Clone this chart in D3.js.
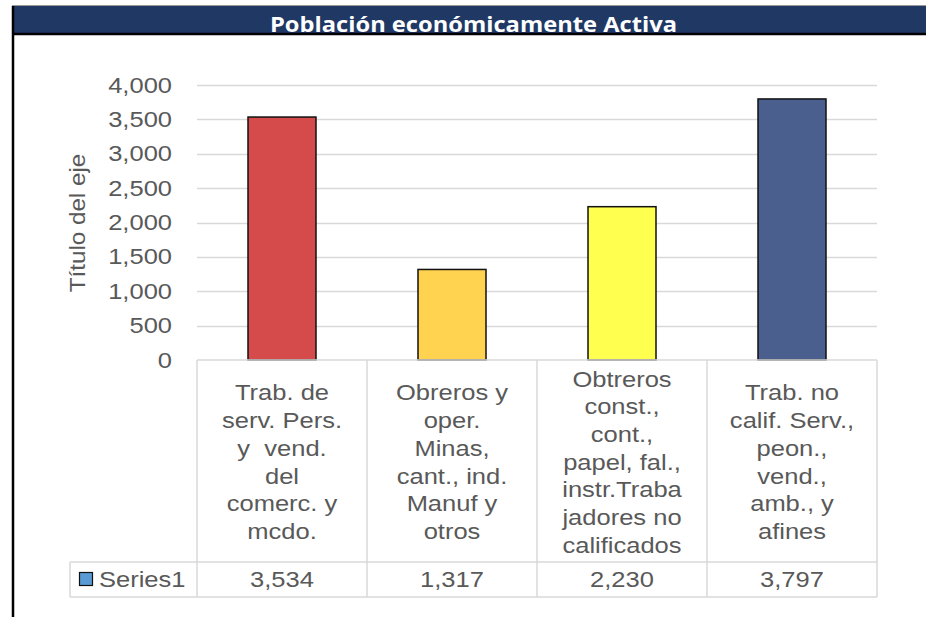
<!DOCTYPE html>
<html>
<head>
<meta charset="utf-8">
<script src="https://cdn.jsdelivr.net/npm/d3@7"></script>
<style>
  html, body { margin: 0; padding: 0; background: #ffffff; }
  svg { display: block; }
  text { font-family: "Liberation Sans", Arial, sans-serif; fill: #595959; }
</style>
</head>
<body>
<svg id="chart" width="926" height="617"></svg>
<script>
// Chart data
const title = "Población económicamente Activa";
const axisTitle = "Título del eje";
const seriesName = "Series1";
const categories = [
  ["Trab. de", "serv. Pers.", "y  vend.", "del", "comerc. y", "mcdo."],
  ["Obreros y", "oper.", "Minas,", "cant., ind.", "Manuf y", "otros"],
  ["Obtreros", "const.,", "cont.,", "papel, fal.,", "instr.Traba", "jadores no", "calificados"],
  ["Trab. no", "calif. Serv.,", "peon.,", "vend.,", "amb., y", "afines"]
];
const values = [3534, 1317, 2230, 3797];
const barColors = ["#d54b4c", "#ffd24f", "#ffff4f", "#4a5f8e"];
const yTicks = [0, 500, 1000, 1500, 2000, 2500, 3000, 3500, 4000];

const svg = d3.select("#chart");
const W = 926;
const SX = 1.16;            // horizontal stretch applied to chart text
const fmt = d3.format(",");
const gridColor = "#d9d9d9";

// Frame: title bar and left rule
svg.append("line").attr("x1", 12).attr("x2", W).attr("y1", 5.5).attr("y2", 5.5)
  .attr("stroke", "#9a9a9a").attr("stroke-width", 1);
svg.append("rect").attr("x", 13).attr("y", 6).attr("width", W - 13).attr("height", 27)
  .attr("fill", "#203864");
svg.append("line").attr("x1", 13).attr("x2", W).attr("y1", 34).attr("y2", 34)
  .attr("stroke", "#000").attr("stroke-width", 2.5);
svg.append("line").attr("x1", 13).attr("x2", 13).attr("y1", 6).attr("y2", 617)
  .attr("stroke", "#000").attr("stroke-width", 2.5);
svg.append("text").text(title)
  .attr("x", 473.5).attr("y", 31.5)
  .attr("text-anchor", "middle")
  .attr("textLength", 407).attr("lengthAdjust", "spacingAndGlyphs")
  .style("font-family", "'Liberation Sans Narrow', 'Open Sans', sans-serif")
  .style("font-weight", "700").style("font-size", "21px")
  .style("fill", "#ffffff");

// Scales
const left = 197, right = 877;
const y = d3.scaleLinear().domain([0, 4000]).range([360, 85]);
const col = d3.scaleBand().domain(d3.range(categories.length)).range([left, right]).padding(0);
const x = d3.scaleBand().domain(d3.range(categories.length)).range([left, right])
  .paddingInner(0.6).paddingOuter(0.3);

// Gridlines
svg.append("g").selectAll("line").data(yTicks.filter(d => d > 0)).join("line")
  .attr("x1", left).attr("x2", right)
  .attr("y1", d => Math.round(y(d)) + 0.5).attr("y2", d => Math.round(y(d)) + 0.5)
  .attr("stroke", gridColor).attr("stroke-width", 1.5);

// Y axis
const yAxis = svg.append("g").attr("transform", `translate(${left},0)`)
  .call(d3.axisLeft(y).tickValues(yTicks).tickSize(0).tickFormat(fmt));
yAxis.select(".domain").remove();
yAxis.selectAll("text")
  .attr("x", -25 / SX)
  .attr("transform", `scale(${SX},1)`)
  .style("font-size", "22px")
  .style("font-family", "'Liberation Sans', Arial, sans-serif")
  .attr("fill", "#595959");

svg.append("text").text(axisTitle)
  .attr("transform", "translate(85,223) rotate(-90) scale(1.1,1)")
  .attr("text-anchor", "middle")
  .style("font-size", "22px");

// Bars
svg.append("g").selectAll("rect").data(values).join("rect")
  .attr("x", (d, i) => x(i))
  .attr("width", x.bandwidth())
  .attr("y", d => y(d))
  .attr("height", d => y(0) - y(d))
  .attr("fill", (d, i) => barColors[i])
  .attr("stroke", "#111").attr("stroke-width", 1.5);

// Data table below the plot
const rowTop = 360, rowMid = 562, rowBot = 597, legendLeft = 70;
const tbl = svg.append("g").attr("stroke", gridColor).attr("stroke-width", 1.5);
tbl.append("line").attr("x1", left).attr("x2", right).attr("y1", rowTop).attr("y2", rowTop);
tbl.append("line").attr("x1", legendLeft).attr("x2", right).attr("y1", rowMid).attr("y2", rowMid);
tbl.append("line").attr("x1", legendLeft).attr("x2", right).attr("y1", rowBot).attr("y2", rowBot);
tbl.append("line").attr("x1", legendLeft).attr("x2", legendLeft).attr("y1", rowMid).attr("y2", rowBot);
tbl.selectAll("line.v").data(d3.range(categories.length + 1)).join("line")
  .attr("class", "v")
  .attr("x1", i => i < categories.length ? col(i) : right)
  .attr("x2", i => i < categories.length ? col(i) : right)
  .attr("y1", rowTop).attr("y2", rowBot);

// Category labels
const lineH = 27.7;
const labelCenter = (rowTop + rowMid) / 2 + 1;
categories.forEach((lines, i) => {
  const cx = col(i) + col.bandwidth() / 2;
  const y0 = labelCenter - (lines.length - 1) * lineH / 2;
  lines.forEach((ln, j) => {
    svg.append("text")
      .attr("transform", `translate(${cx},${y0 + j * lineH}) scale(${SX},1)`)
      .attr("text-anchor", "middle").attr("dy", "0.35em")
      .style("font-size", "22px")
      .style("white-space", "pre")
      .text(ln);
  });
});

// Value row
values.forEach((v, i) => {
  svg.append("text")
    .attr("transform", `translate(${col(i) + col.bandwidth() / 2},${(rowMid + rowBot) / 2}) scale(${SX},1)`)
    .attr("text-anchor", "middle").attr("dy", "0.35em")
    .style("font-size", "22px")
    .text(fmt(v));
});

// Legend key
svg.append("rect").attr("x", 79.5).attr("y", 572.5).attr("width", 13).attr("height", 13)
  .attr("fill", "#5b9bd5").attr("stroke", "#111").attr("stroke-width", 1.2);
svg.append("text")
  .attr("transform", `translate(99,${(rowMid + rowBot) / 2}) scale(${SX},1)`)
  .attr("dy", "0.35em")
  .style("font-size", "22px")
  .text(seriesName);
</script>
</body>
</html>
